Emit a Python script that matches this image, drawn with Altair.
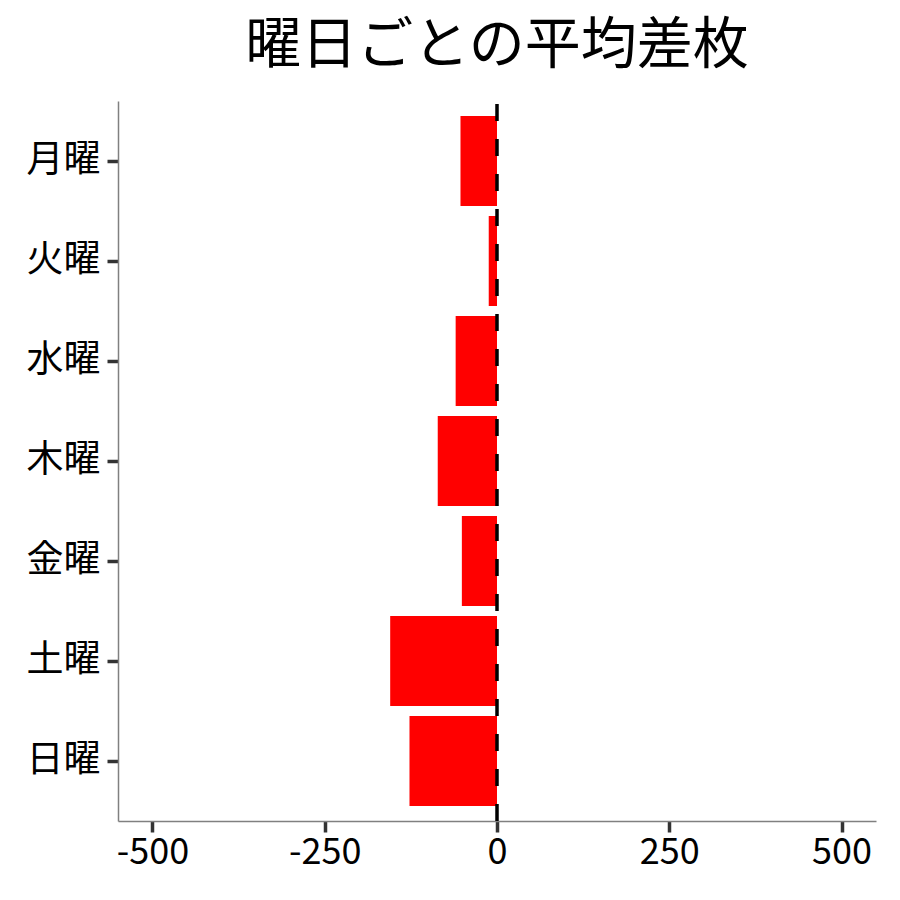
import altair as alt
import pandas as pd

days = ["月曜", "火曜", "水曜", "木曜", "金曜", "土曜", "日曜"]
avg_diff = [-53, -12, -60, -86, -51, -155, -127]
x_ticks = [-500, -250, 0, 250, 500]

df = pd.DataFrame({"day": days, "diff": avg_diff})
FONT = "Noto Sans CJK JP"

xscale = alt.Scale(domain=[-550, 550], nice=False, zero=False)

bars = alt.Chart(df).mark_bar(color="#FF0000").encode(
    x=alt.X("diff:Q", scale=xscale,
            axis=alt.Axis(values=x_ticks, title=None, grid=False,
                          labelExpr="datum.value + ''",
                          labelFontSize=36, labelFont=FONT, labelColor="#000000",
                          labelPadding=3, tickSize=11, tickWidth=3.5, tickColor="#333333",
                          domainColor="#808080", domainWidth=1.5, labelFlush=False)),
    y=alt.Y("day:N", sort=days,
            scale=alt.Scale(domain=days, paddingInner=0.1, paddingOuter=0.15),
            axis=alt.Axis(title=None, grid=False, labelFontSize=37, labelFont=FONT,
                          labelColor="#000000", labelPadding=7, tickSize=11, tickWidth=3.5,
                          tickColor="#333333", domainColor="#808080", domainWidth=1.5)),
)

zero_df = pd.DataFrame({"v": [0]})
rule = alt.Chart(zero_df).mark_rule(color="#000000", strokeWidth=3.5, strokeDash=[17, 18]).encode(
    x=alt.X("v:Q", scale=xscale),
    y=alt.value(720),
    y2=alt.value(0),
)

chart = alt.layer(bars, rule).properties(
    width=758,
    height=720,
    title=alt.TitleParams("曜日ごとの平均差枚", fontSize=56, font=FONT, fontWeight="normal",
                          color="#000000", anchor="middle", offset=24),
    autosize=alt.AutoSizeParams(type="none"),
    padding={"left": 110, "top": 93, "right": 16, "bottom": 60},
).configure_view(stroke=None)

chart.save("out.html", embed_options={"renderer": "svg", "actions": False})
